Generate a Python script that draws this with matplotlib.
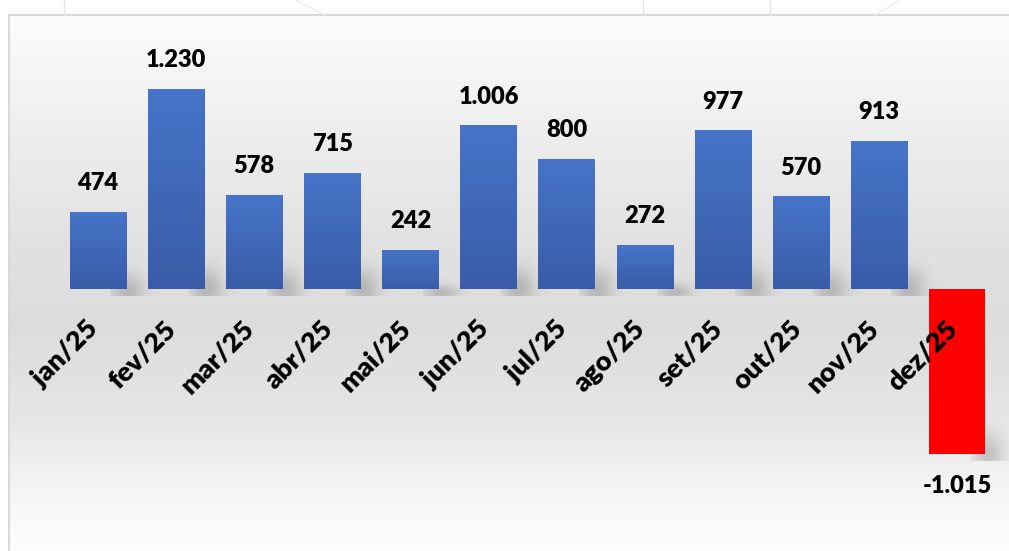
import numpy as np
import matplotlib.pyplot as plt
from matplotlib.colors import LinearSegmentedColormap

# monthly values
months = ['jan/25', 'fev/25', 'mar/25', 'abr/25', 'mai/25', 'jun/25',
          'jul/25', 'ago/25', 'set/25', 'out/25', 'nov/25', 'dez/25']
values = [474, 1230, 578, 715, 242, 1006, 800, 272, 977, 570, 913, -1015]

plt.rcParams['font.family'] = ['Lato', 'DejaVu Sans']

W, H = 1009, 551
fig = plt.figure(figsize=(W / 100, H / 100), dpi=100)
fig.patch.set_facecolor('white')

# axes fills the whole figure, limits chosen so the bars sit where they should
ax = fig.add_axes([0, 0, 1, 1])
step_px = 78.1
ppu = 200 / 1230.0  # pixels per unit
x0_px, y0_px = 98, 289
ax.set_xlim(-x0_px / step_px, (W - x0_px) / step_px)
ax.set_ylim(-(H - y0_px) / ppu, y0_px / ppu)
ax.axis('off')

# grey panel gradient behind the chart
stops = [(0.0, 0.99), (0.15, 0.95), (0.42, 0.885), (0.58, 0.865),
         (0.75, 0.90), (0.87, 0.955), (1.0, 0.995)]
grey = LinearSegmentedColormap.from_list('bg', [(p, (g, g, g)) for p, g in stops])
grad = np.linspace(0, 1, 256).reshape(-1, 1)
px_l, px_t = 9 / W, 1 - 15 / H
ax.imshow(grad, cmap=grey, aspect='auto', extent=(px_l, 1, 0, px_t),
          transform=ax.transAxes, zorder=0, interpolation='bicubic')

# frame lines and faint slide lines above the panel
fc = '#d9d9d9'
fig.add_artist(plt.Line2D([px_l, 1], [px_t, px_t], color=fc, lw=1.5))
fig.add_artist(plt.Line2D([px_l, px_l], [0, px_t], color=fc, lw=1.5))
for xv in [64, 643, 770]:
    fig.add_artist(plt.Line2D([xv / W, xv / W], [px_t, 1], color='#e6e6e6', lw=1))
for xa, xb in [(296, 325), (900, 875)]:
    fig.add_artist(plt.Line2D([xa / W, xb / W], [1, px_t], color='#ececec', lw=1))

colors = ['#4472c4' if v >= 0 else '#ff0000' for v in values]
bars = ax.bar(range(len(values)), values, width=0.72, color=colors, zorder=3)

blue = LinearSegmentedColormap.from_list('bl', ['#4674c8', '#3a5ca8'])
for bar, v in zip(bars, values):
    x, w, h = bar.get_x(), bar.get_width(), bar.get_height()
    y_lo, y_hi = min(0, h), max(0, h)
    # soft shadow at the lower right of the bar
    nx, ny = 60, 60
    SX, SY = np.meshgrid(np.linspace(0, 1, nx), np.linspace(0, 1, ny))
    alpha = 0.18 * np.exp(-((SX - 0.35) / 0.32) ** 2) * np.exp(-((SY - 0.1) / 0.3) ** 2)
    shade = np.zeros((ny, nx, 4))
    shade[..., 3] = alpha
    ext_h = min((y_hi - y_lo) * 0.7, 420)
    ax.imshow(shade, origin='lower', aspect='auto',
              extent=(x + w - 0.2, x + w + 0.45, y_lo - 40, y_lo - 40 + ext_h),
              zorder=2, interpolation='bicubic')
    if v >= 0:
        img = ax.imshow(np.linspace(0, 1, 100).reshape(-1, 1), cmap=blue,
                        aspect='auto', extent=(x, x + w, y_lo, y_hi), zorder=3)
        img.set_clip_path(bar)

for i, v in enumerate(values):
    txt = f'{v:,}'.replace(',', '.')
    off = 15.5 if v >= 0 else -28
    ax.annotate(txt, xy=(i, v), xytext=(0, off), textcoords='offset points',
                ha='center', va='baseline', fontsize=17, fontweight='heavy',
                color='black', zorder=5)
    # month labels sit just under the zero line, rotated
    ax.annotate(months[i], xy=(i, 0), xytext=(1.5, -30), textcoords='offset points',
                ha='right', va='baseline', rotation=45, rotation_mode='anchor',
                fontsize=19.5, fontweight='heavy', color='black', zorder=5)

fig.savefig('out.png', dpi=100)
